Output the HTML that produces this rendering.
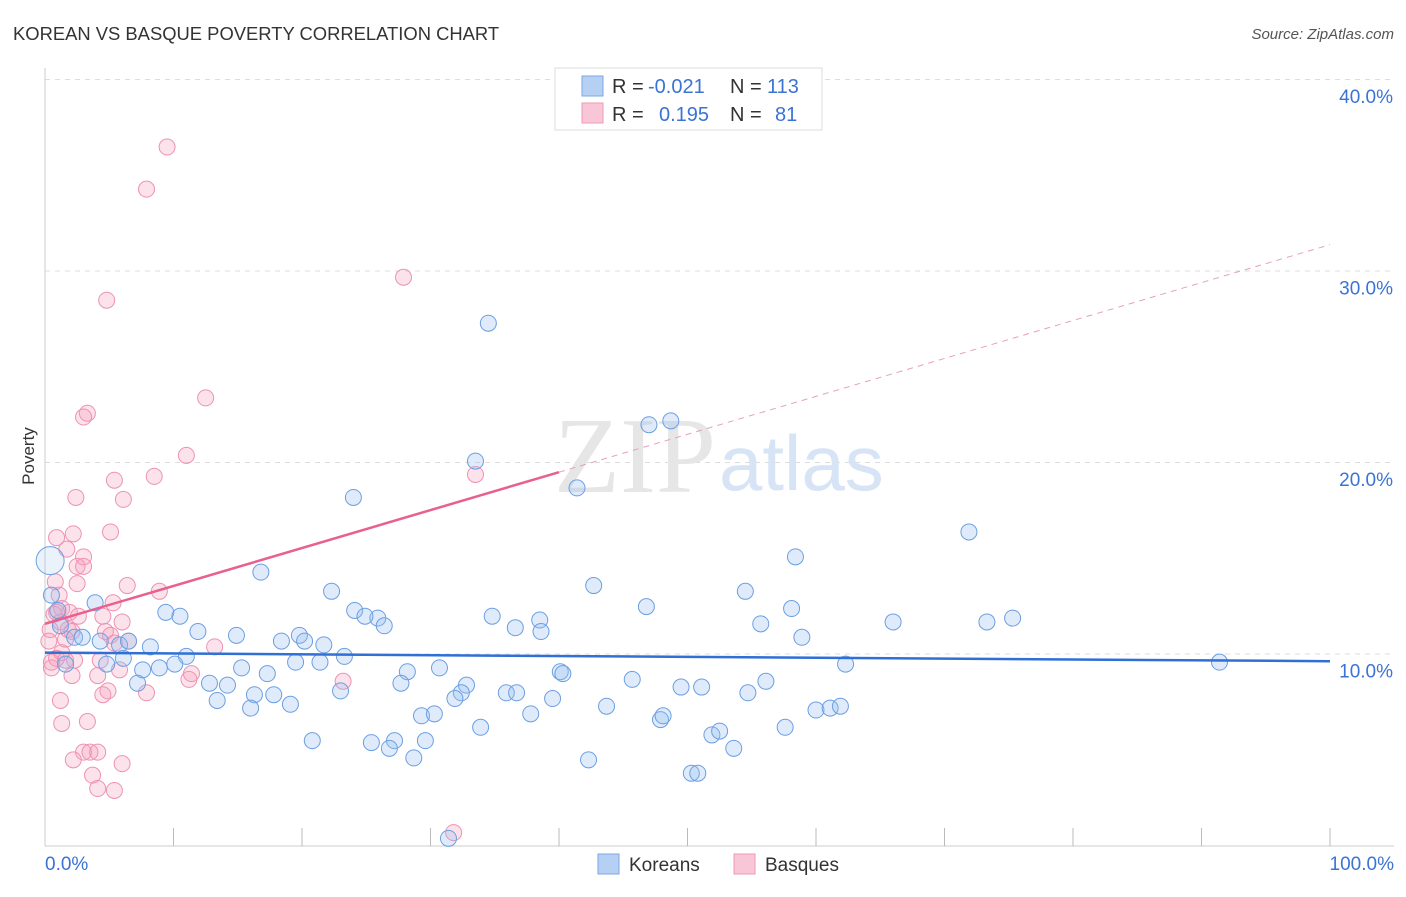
<!DOCTYPE html>
<html><head><meta charset="utf-8"><style>
body{margin:0;background:#fff;font-family:"Liberation Sans",sans-serif;}
#c{position:relative;width:1406px;height:892px;}
</style></head><body>
<div id="c">
<svg id="s" width="1406" height="892" xmlns="http://www.w3.org/2000/svg">
<text x="13" y="40" font-size="18.4" fill="#333">KOREAN VS BASQUE POVERTY CORRELATION CHART</text>
<text x="1394" y="39" font-size="15" fill="#555" text-anchor="end" font-style="italic">Source: ZipAtlas.com</text>
<text x="34" y="456" font-size="17" fill="#333" text-anchor="middle" transform="rotate(-90 34 456)">Poverty</text>
<g id="grid"></g>
<text x="716" y="492" font-size="108" fill="#e6e6e6" text-anchor="end" font-family="Liberation Serif">ZIP</text>
<text x="719" y="490" font-size="78" fill="#d6e4f5">atlas</text>
<g id="pts"></g>
<g id="lines"></g>
<g>
<rect x="555" y="68" width="267" height="62" fill="#fff" stroke="#ddd"/>
<rect x="582" y="76" width="21" height="20" fill="#b5d0f3" stroke="#7aa9e6"/>
<rect x="582" y="103" width="21" height="20" fill="#f8c6d6" stroke="#ef9ab6"/>
<text x="612" y="93" font-size="20" fill="#333">R = <tspan fill="#3b73d4" x="648">-0.021</tspan><tspan x="730">N = </tspan><tspan fill="#3b73d4" x="767">113</tspan></text>
<text x="612" y="121" font-size="20" fill="#333">R = <tspan fill="#3b73d4" x="659">0.195</tspan><tspan x="730">N = </tspan><tspan fill="#3b73d4" x="775">81</tspan></text>
</g>
<g>
<rect x="598" y="854" width="21" height="20" fill="#b5d0f3" stroke="#7aa9e6"/>
<text x="629" y="871" font-size="19" fill="#333">Koreans</text>
<rect x="734" y="854" width="21" height="20" fill="#f8c6d6" stroke="#ef9ab6"/>
<text x="765" y="871" font-size="19" fill="#333">Basques</text>
</g>
</svg>
</div>
<script>
const blueX=[34.5,33.5,24.0,41.4,47.0,48.7,71.9,58.4,16.8,42.7,22.3,54.5,46.8,58.1,24.1,25.9,24.9,34.8,38.5,9.4,10.5,26.4,36.6,55.7,66.0,73.3,75.3,58.9,11.9,14.9,18.4,19.8,20.2,21.7,38.6,8.2,3.9,1.0,1.2,2.3,2.9,4.3,5.8,6.5,23.3,11.0,10.1,8.9,7.6,4.8,15.3,17.3,19.5,21.4,30.7,28.2,40.1,40.3,62.3,91.4,7.2,12.8,14.2,16.3,17.8,23.0,27.7,32.8,32.4,31.9,35.9,36.7,39.5,45.7,49.5,51.1,54.7,56.1,13.4,16.0,19.1,29.3,30.3,37.8,43.7,47.9,48.1,60.0,61.1,61.9,20.8,25.4,27.2,29.6,26.8,28.7,33.9,42.3,51.9,52.5,53.6,57.6,50.3,50.8,31.4,6.1,0.5,1.6,0.4];
const blueY=[27.3,20.1,18.2,18.7,22.0,22.2,16.4,15.1,14.3,13.6,13.3,13.3,12.5,12.4,12.3,11.9,12.0,12.0,11.8,12.2,12.0,11.5,11.4,11.6,11.7,11.7,11.9,10.9,11.2,11.0,10.7,11.0,10.7,10.5,11.2,10.4,12.7,12.3,11.5,10.9,10.9,10.7,10.5,10.7,9.9,9.9,9.5,9.3,9.2,9.5,9.3,9.0,9.6,9.6,9.3,9.1,9.1,9.0,9.5,9.6,8.5,8.5,8.4,7.9,7.9,8.1,8.5,8.4,8.0,7.7,8.0,8.0,7.7,8.7,8.3,8.3,8.0,8.6,7.6,7.2,7.4,6.8,6.9,6.9,7.3,6.6,6.8,7.1,7.2,7.3,5.5,5.4,5.5,5.5,5.1,4.6,6.2,4.5,5.8,6.0,5.1,6.2,3.8,3.8,0.4,9.8,13.1,9.5,14.9];
const pinkX=[9.5,7.9,27.9,4.8,12.5,3.3,3.0,11.0,33.5,8.5,5.4,2.4,6.1,5.1,0.9,2.2,3.0,1.7,2.5,3.0,2.5,6.4,8.9,0.8,1.1,5.3,1.3,1.9,0.7,1.2,2.6,4.5,6.0,4.7,5.1,0.4,1.8,2.1,0.3,5.4,6.5,1.3,0.9,1.6,0.5,2.3,5.8,11.2,11.4,4.1,2.1,4.9,4.5,7.9,23.2,13.2,1.2,1.3,3.3,3.0,3.5,4.1,2.2,6.0,3.7,4.1,5.4,31.8,0.5,0.9,4.3,1.6];
const pinkY=[36.5,34.3,29.7,28.5,23.4,22.6,22.4,20.4,19.4,19.3,19.1,18.2,18.1,16.4,16.1,16.3,15.1,15.5,14.6,14.6,13.7,13.6,13.3,13.8,13.1,12.7,12.4,12.2,12.1,11.7,12.0,12.0,11.7,11.2,11.0,11.3,11.3,11.2,10.7,10.6,10.7,10.1,9.8,9.7,9.3,9.7,9.2,8.7,9.0,8.9,8.9,8.1,7.9,8.0,8.6,10.4,7.6,6.4,6.5,4.9,4.9,4.9,4.5,4.3,3.7,3.0,2.9,0.7,9.6,12.2,9.7,10.8];
const yTicks=[10,20,30,40];
const trendBlue=[10.1,9.65];
const trendPink=[11.6,31.4];
const pinkSolidEnd=40;
const NS='http://www.w3.org/2000/svg';
const X0=45,X1=1330,Y0=846,YS=19.15;
const sx=v=>X0+(X1-X0)*v/100;
const sy=v=>Y0-v*YS;
function mk(t,a,p){const e=document.createElementNS(NS,t);for(const k in a)e.setAttribute(k,a[k]);p.appendChild(e);return e;}
const g=document.getElementById('grid');
yTicks.forEach(t=>{
 const l=mk('line',{x1:X0,x2:1394,y1:sy(t)-0.5,y2:sy(t)-0.5,stroke:'#ddd','stroke-dasharray':'5,5'},g);
 
 
 const tx=mk('text',{x:1393,y:sy(t)+23,'font-size':19,fill:'#3b73d4','text-anchor':'end'},g);
 tx.textContent=t.toFixed(1)+'%';
 
 
});
const ax=mk('line',{x1:X0,x2:1394,y1:Y0,y2:Y0,stroke:'#ccc'},g);


const ay=mk('line',{x1:X0,x2:X0,y1:68,y2:Y0,stroke:'#ccc'},g);


for(let i=1;i<=10;i++){
 const tk=mk('line',{x1:sx(i*10),x2:sx(i*10),y1:828,y2:Y0,stroke:'#bbb'},g);
 
 
}
const l0=mk('text',{x:45,y:870,'font-size':19,fill:'#3b73d4'},g);l0.textContent='0.0%';


const l1=mk('text',{x:1394,y:870,'font-size':19,fill:'#3b73d4','text-anchor':'end'},g);l1.textContent='100.0%';


const p=document.getElementById('pts');
pinkX.forEach((x,i)=>{
 const c=mk('circle',{cx:sx(x),cy:sy(pinkY[i]),r:8,fill:'rgba(245,160,190,0.3)',stroke:'#ee92b2','stroke-width':1},p);
 
 
});
blueX.forEach((x,i)=>{
 const big=i===blueX.length-1;
 const c=mk('circle',{cx:sx(x),cy:sy(blueY[i]),r:big?14:8,fill:big?'rgba(150,190,240,0.2)':'rgba(150,190,240,0.3)',stroke:'#6b9fe3','stroke-width':1},p);
 
 
});
const L=document.getElementById('lines');
const tb=mk('line',{x1:sx(0),y1:sy(trendBlue[0]),x2:sx(100),y2:sy(trendBlue[1]),stroke:'#2f6fd6','stroke-width':2.5},L);


const pv=x=>trendPink[0]+(trendPink[1]-trendPink[0])*x/100;
const tp=mk('line',{x1:sx(0),y1:sy(pv(0)),x2:sx(pinkSolidEnd),y2:sy(pv(pinkSolidEnd)),stroke:'#e8608e','stroke-width':2.5},L);


const td=mk('line',{x1:sx(pinkSolidEnd),y1:sy(pv(pinkSolidEnd)),x2:sx(100),y2:sy(pv(100)),stroke:'#e8a0b8','stroke-width':1,'stroke-dasharray':'6,5'},L);


</script>
</body></html>
